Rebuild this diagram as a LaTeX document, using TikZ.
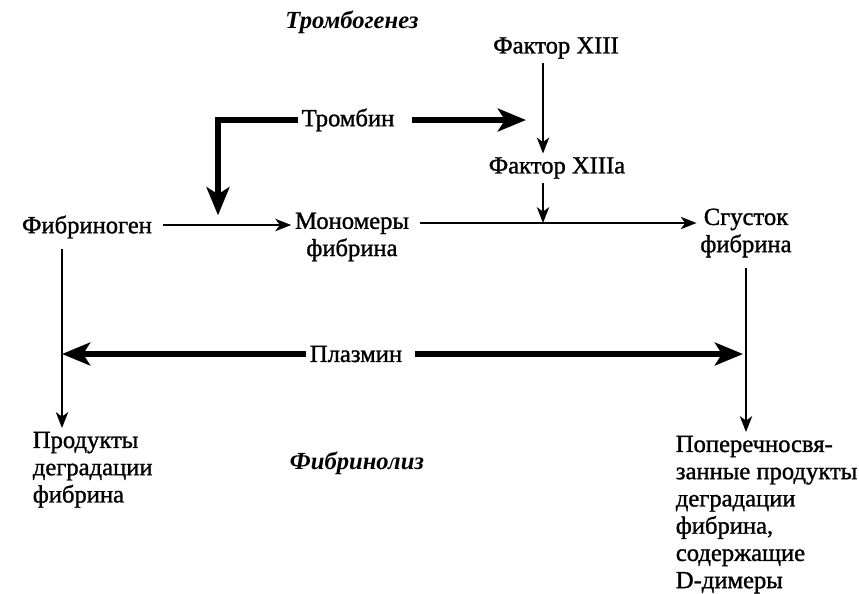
\documentclass[tikz,border=0pt]{standalone}
\usepackage{fontspec}
\setmainfont{Liberation Serif}
\newfontfamily\diagfont[FakeBold=1.2]{Liberation Serif}
\usetikzlibrary{arrows.meta}

\tikzset{
  entry/.style={font=\diagfont\fontsize{14}{15.5}\selectfont, align=center, inner sep=2pt},
  heading/.style={font=\fontsize{14}{15.5}\selectfont\bfseries\itshape, inner sep=2pt},
  flow/.style={line width=1.1pt, -{Stealth[length=9pt,width=7pt,inset=2.5pt]}},
  boldflow/.style={line width=3.8pt, -{Stealth[length=16pt,width=13pt,inset=4pt]}},
}

\begin{document}
\begin{tikzpicture}[x=0.02cm,y=-0.02cm]
\useasboundingbox (0,0) rectangle (859,593);

% Section titles
\node[heading] (titletop) at (352,22) {Тромбогенез};
\node[heading] (titlebottom) at (357,463) {Фибринолиз};

% Main chain
\node[entry] (fib) at (87,227) {Фибриноген};
\node[entry] (mono) at (352,237) {Мономеры\\фибрина};
\node[entry] (clot) at (746,233) {Сгусток\\фибрина};

% Enzymes
\node[entry] (thr) at (348,120) {Тромбин};
\node[entry] (f13) at (556,48) {Фактор XIII};
\node[entry] (f13a) at (557,168) {Фактор XIIIa};
\node[entry] (plm) at (356,354) {Плазмин};

% Degradation products
\node[entry, align=left, anchor=north west] (fdp) at (29,428) {Продукты\\деградации\\фибрина};
\node[entry, align=left, anchor=north west] (ddim) at (672,432) {Поперечносвя-\\занные продукты\\деградации\\фибрина,\\содержащие\\D-димеры};

% Points on the thin lines
\coordinate (j1) at (218,225);
\coordinate (j2) at (526,118);
\coordinate (j3) at (543,223);
\coordinate (pl1) at (62,354);
\coordinate (pl2) at (743,354);

% Thin arrows
\draw[flow, shorten <=4pt] (fib.east |- j1) -- (mono.west |- j1);
\draw[flow, shorten <=4pt] (mono.east |- j3) -- (clot.west |- j3);
\draw[flow] (f13.south -| j3) -- (f13a.north -| j3);
\draw[flow] (f13a.south -| j3) -- (j3);
\draw[flow, shorten <=4pt] (fib.south -| pl1) -- (fdp.north -| pl1);
\draw[flow, shorten <=4pt] (clot.south) -- (clot.south |- ddim.north);

% Thick arrows
\draw[boldflow, shorten >=5.5pt] (thr.west) -| (j1);
\draw[boldflow, shorten <=8pt] (thr.east) -- (thr.east -| j2);
\draw[boldflow] (plm.west) -- (plm.west -| pl1);
\draw[boldflow, shorten <=5pt] (plm.east) -- (plm.east -| pl2);

\end{tikzpicture}
\end{document}
